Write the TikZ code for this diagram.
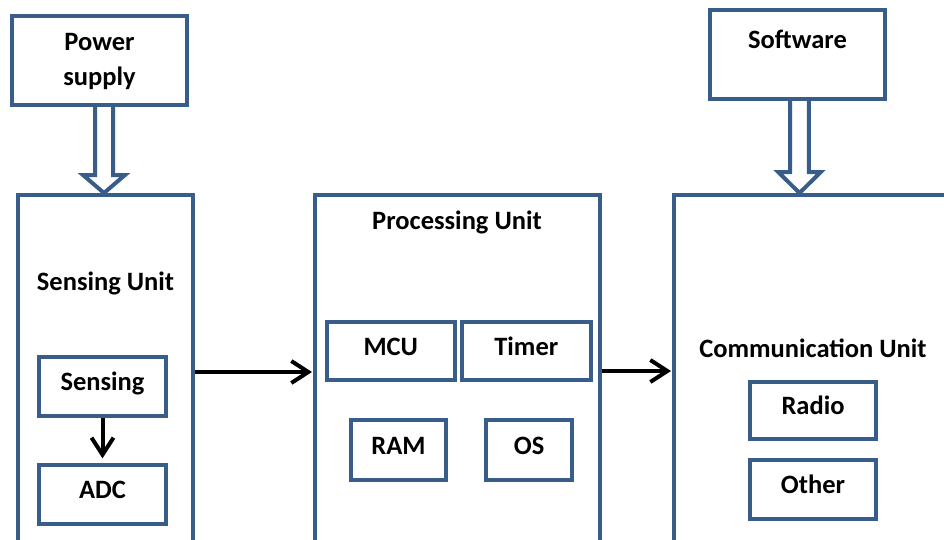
\documentclass[tikz,border=0pt]{standalone}
\usepackage{fontspec}
\setmainfont{Carlito}
\usetikzlibrary{arrows.meta,calc}
\definecolor{boxblue}{HTML}{385D8A}
\newcommand\diafont{\bfseries\fontsize{26.5}{35}\selectfont}
\begin{document}
\begin{tikzpicture}[x=1pt,y=-1pt,
  blk/.style={draw=boxblue, line width=4pt, inner sep=0pt, font=\diafont, text height=17pt, text depth=9pt},
  lbl/.style={font=\diafont, inner sep=0pt},
  arr/.style={draw=black, line width=4pt, -{Straight Barb[length=17pt,width=22pt]}},
  hollow/.style={draw=boxblue, fill=white, line width=4pt, line join=miter}]
\useasboundingbox (0,0) rectangle (944,539);
\clip (0,0) rectangle (944,539);
% hollow block arrows (drawn first, boxes on top)
\coordinate (pt) at (104,105);
\coordinate (ptip) at (104,193);
\coordinate (st) at (799.5,98.7);
\coordinate (stip) at (799.5,193);
\draw[hollow] (pt) ++(-9,0) -- ++(0,70) -- ++(-12,0) -- (ptip) -- ++(21,-18) -- ++(-12,0) -- ++(0,-70);
\draw[hollow] (st) ++(-9.3,0) -- ++(0,73.3) -- ++(-12,0) -- (stip) -- ++(21.3,-21) -- ++(-12,0) -- ++(0,-73.3);
% top boxes
\node[blk, minimum width=175, minimum height=89.5] (ps) at (99.5,60.25) {};
\node[lbl, align=center, anchor=base] (pst) at (99.5,85) {Power\\supply};
\node[blk, minimum width=174.4, minimum height=88.4] (sw) at (797.5,54.5) {};
\node[lbl, anchor=base] (swt) at (797.5,48.3) {Software};
% big units
\node[blk, minimum width=175, minimum height=365] (su) at (105.5,377.5) {};
\node[lbl, anchor=base] (sut) at (105.5,290) {Sensing Unit};
\node[blk, minimum width=285, minimum height=365] (pu) at (457.5,377.5) {};
\node[lbl, anchor=base] (put) at (457,229.3) {Processing Unit};
\node[blk, minimum width=286, minimum height=365] (cu) at (817,377.5) {};
\node[lbl, anchor=base] (cut) at (813,357.7) {Communication Unit};
% inner boxes
\node[blk, minimum width=127.6, minimum height=59.3] (sen) at (102.5,386.7) {Sensing};
\node[blk, minimum width=127.6, minimum height=58.7] (adc) at (102.5,494.7) {ADC};
\node[blk, minimum width=127.7, minimum height=58.3] (mcu) at (390.8,351.2) {MCU};
\node[blk, minimum width=128.7, minimum height=58.3] (tim) at (526.3,351.2) {Timer};
\node[blk, minimum width=94.4, minimum height=59.4] (ram) at (398.5,450) {RAM};
\node[blk, minimum width=85.7, minimum height=59.4] (os) at (529.2,450) {OS};
\node[blk, minimum width=126.6, minimum height=57] (rad) at (813,410.5) {Radio};
\node[blk, minimum width=126.6, minimum height=58.4] (oth) at (813,489.5) {Other};
% connectors
\coordinate (r1) at (0,372);
\coordinate (r2) at (0,371);
\draw[arr, shorten >=1pt] (su.east |- r1) -- (pu.west |- r1);
\draw[arr, shorten >=1pt] (pu.east |- r2) -- (cu.west |- r2);
\draw[arr, shorten >=5pt] (sen) -- (adc);
\end{tikzpicture}
\end{document}
